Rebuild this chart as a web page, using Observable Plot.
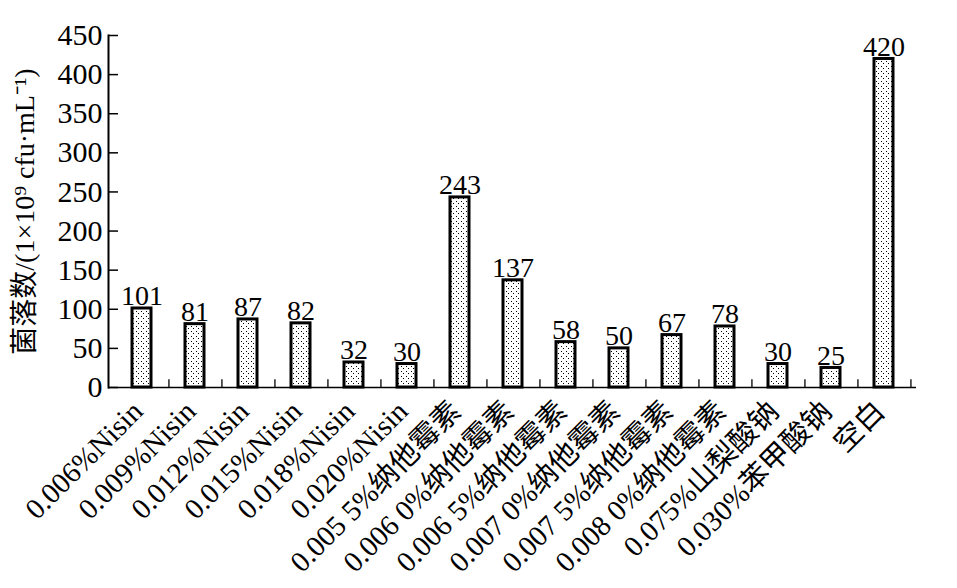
<!DOCTYPE html>
<html>
<head>
<meta charset="utf-8">
<script src="https://cdn.jsdelivr.net/npm/d3@7"></script>
<script src="https://cdn.jsdelivr.net/npm/@observablehq/plot@0.6"></script>
<style>
  html, body { margin: 0; padding: 0; background: white; }
</style>
</head>
<body>
<div id="chart"></div>
<script>
const categories = [
  "0.006%Nisin", "0.009%Nisin", "0.012%Nisin", "0.015%Nisin", "0.018%Nisin", "0.020%Nisin",
  "0.005 5%纳他霉素", "0.006 0%纳他霉素", "0.006 5%纳他霉素", "0.007 0%纳他霉素",
  "0.007 5%纳他霉素", "0.008 0%纳他霉素", "0.075%山梨酸钠", "0.030%苯甲酸钠", "空白"
];
const values = [101, 81, 87, 82, 32, 30, 243, 137, 58, 50, 67, 78, 30, 25, 420];
const yTicks = [0, 50, 100, 150, 200, 250, 300, 350, 400, 450];
const yLabel = "菌落数/(1×10⁹ cfu·mL⁻¹)";

const data = categories.map((c, i) => ({cat: c, value: values[i]}));

const W = 957, H = 588, ML = 108, MR = 41, MT = 35, MB = 201;
const step = (W - ML - MR) / categories.length;
const font = "'Liberation Serif', 'Times New Roman', 'Noto Sans CJK SC', serif";

const chart = Plot.plot({
  width: W, height: H,
  marginLeft: ML, marginRight: MR, marginTop: MT, marginBottom: MB,
  style: {fontFamily: font, background: "white", color: "black"},
  x: {domain: categories, paddingInner: 0.647, paddingOuter: 0.3235, axis: null},
  y: {domain: [0, 450], axis: null},
  marks: [
    Plot.barY(data, {x: "cat", y: "value", fill: "url(#dots)", stroke: "black", strokeWidth: 3}),
    Plot.ruleY([0], {stroke: "black", strokeWidth: 1.5}),
    Plot.frame({anchor: "left", stroke: "black", strokeWidth: 2}),
    Plot.axisY({ticks: yTicks, tickSize: -10, tickPadding: 16, fontSize: 30, label: null, strokeWidth: 1.5}),
    Plot.ruleX(categories, {x: d => d, y1: 0, y2: 10, dx: step / 2, stroke: "black", strokeWidth: 1.3}),
    Plot.text(data, {x: "cat", y: "value", text: d => String(d.value), lineAnchor: "bottom", dy: -3, fontSize: 28, fill: "black"}),
    Plot.text(data, {x: "cat", y: 0, text: "cat", rotate: -45, textAnchor: "end", dx: -4, dy: 19, fontSize: 29, fill: "black"}),
    Plot.text([yLabel], {frameAnchor: "left", rotate: -90, dx: -83, textAnchor: "middle", text: d => d, fontSize: 28, fill: "black"})
  ]
});

chart.insertAdjacentHTML("afterbegin",
  '<defs><pattern id="dots" width="5" height="5" patternUnits="userSpaceOnUse">' +
  '<rect width="5" height="5" fill="white"/>' +
  '<rect x="1" y="1" width="1" height="1" fill="#000"/>' +
  '<rect x="3" y="3" width="1" height="1" fill="#000"/>' +
  '</pattern></defs>');

document.getElementById("chart").appendChild(chart);
</script>
</body>
</html>
